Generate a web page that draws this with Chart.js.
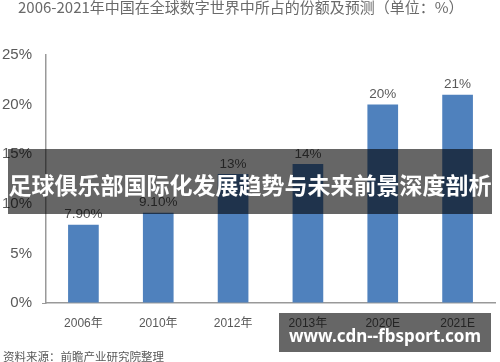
<!DOCTYPE html>
<html>
<head>
<meta charset="utf-8">
<script src="https://cdn.jsdelivr.net/npm/chart.js@4/dist/chart.umd.min.js"></script>
<style>
  html, body { margin: 0; padding: 0; background: #fff; }
  #wrap { position: relative; width: 500px; height: 362px; overflow: hidden; }
  #c { position: absolute; left: 0; top: 0; }
  .title { position: absolute; left: 18px; top: -3px; font: 15px "Noto Sans CJK SC", "Liberation Sans", sans-serif; color: #6a6a6a; white-space: nowrap; line-height: 20px; }
  .source { position: absolute; left: 3px; top: 348px; font: 11.5px "Noto Sans CJK SC", sans-serif; color: #595959; white-space: nowrap; line-height: 16px; }
  .banner { position: absolute; left: 8px; top: 149px; width: 484px; height: 65px; background: rgba(0,0,0,0.6); }
  .banner span, .wm span { position: absolute; left: 50%; top: 50%; transform: translate(-50%, -50%); white-space: nowrap; color: #fff; }
  .banner span { font: 700 23px "Noto Sans CJK SC", sans-serif; margin-top: 2px; }
  .wm { position: absolute; left: 279px; top: 313px; width: 212px; height: 39px; background: rgba(0,0,0,0.6); }
  .wm span { font: 700 17px "Noto Sans", "DejaVu Sans", sans-serif; margin-top: 2px; }
</style>
</head>
<body>
<div id="wrap">
  <canvas id="c" width="500" height="362"></canvas>
  <div class="title">2006-2021年中国在全球数字世界中所占的份额及预测（单位：%）</div>
  <div class="source">资料来源：前瞻产业研究院整理</div>
  <div class="banner"><span>足球俱乐部国际化发展趋势与未来前景深度剖析</span></div>
  <div class="wm"><span>www.cdn--fbsport.com</span></div>
</div>
<script>
const categories = ['2006年', '2010年', '2012年', '2013年', '2020E', '2021E'];
const shareValues = [7.9, 9.1, 13, 14, 20, 21];
const valueLabels = ['7.90%', '9.10%', '13%', '14%', '20%', '21%'];
const yTicks = [0, 5, 10, 15, 20, 25];

const barLabelPlugin = {
  id: 'barLabels',
  afterDatasetsDraw(chart) {
    const ctx = chart.ctx;
    const meta = chart.getDatasetMeta(0);
    ctx.save();
    ctx.fillStyle = '#595959';
    ctx.font = '13.5px "Liberation Sans", Arial, sans-serif';
    ctx.textAlign = 'center';
    ctx.textBaseline = 'middle';
    meta.data.forEach((bar, i) => {
      ctx.fillText(valueLabels[i], bar.x, bar.y - 10);
    });
    ctx.restore();
  }
};

new Chart(document.getElementById('c'), {
  type: 'bar',
  data: {
    labels: categories,
    datasets: [{
      data: shareValues,
      backgroundColor: '#4f81bd',
      borderWidth: 0,
      barPercentage: 0.41,
      categoryPercentage: 1
    }]
  },
  options: {
    responsive: false,
    animation: false,
    devicePixelRatio: 1,
    layout: { padding: { left: 0, right: 5, top: 55, bottom: 0 } },
    plugins: { legend: { display: false }, tooltip: { enabled: false }, title: { display: false } },
    scales: {
      x: {
        grid: { display: true, drawOnChartArea: false, drawTicks: false, color: 'rgba(0,0,0,0)' },
        border: { display: true, color: '#999', width: 1.5 },
        ticks: { color: '#595959', font: { family: '"Liberation Sans", "Noto Sans CJK SC", sans-serif', size: 12 }, padding: 13, maxRotation: 0 },
        afterFit(scale) { scale.height = 59; }
      },
      y: {
        min: 0, max: 25,
        afterBuildTicks(scale) { scale.ticks = yTicks.map(v => ({ value: v })); },
        grid: {
          drawOnChartArea: false, drawTicks: true, tickLength: 4,
          color: (c) => (c.tick && c.tick.value === 0) ? '#999' : 'rgba(0,0,0,0)'
        },
        border: { display: true, color: '#999', width: 1.5 },
        ticks: { color: '#595959', font: { family: '"Liberation Sans", Arial, sans-serif', size: 15 }, padding: 10, callback: v => v + '%' },
        afterFit(scale) { scale.width = 46; }
      }
    }
  },
  plugins: [barLabelPlugin]
});
</script>
</body>
</html>
